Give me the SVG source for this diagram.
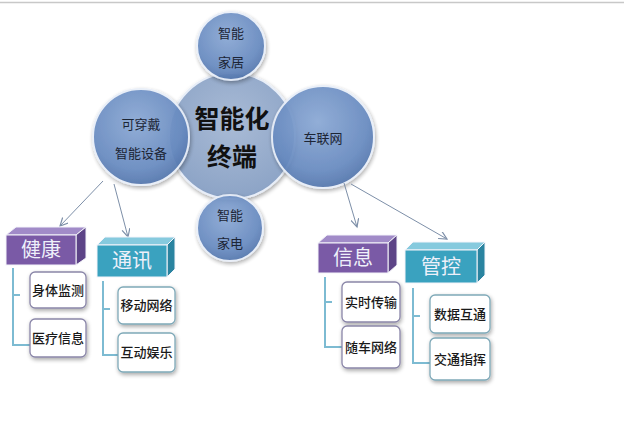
<svg xmlns="http://www.w3.org/2000/svg" width="624" height="438" viewBox="0 0 624 438">
<defs>
<radialGradient id="gSmall" cx="0.45" cy="0.35" r="0.7">
<stop offset="0" stop-color="#8aa8d4"/>
<stop offset="0.7" stop-color="#6689bf"/>
<stop offset="1" stop-color="#4d6fa6"/>
</radialGradient>
<radialGradient id="gCenter" cx="0.5" cy="0.4" r="0.7">
<stop offset="0" stop-color="#a9bbd6"/>
<stop offset="0.8" stop-color="#8ea5c7"/>
<stop offset="1" stop-color="#7a93ba"/>
</radialGradient>
<filter id="sh" x="-20%" y="-20%" width="140%" height="140%">
<feGaussianBlur in="SourceAlpha" stdDeviation="2"/>
<feOffset dx="1" dy="2"/>
<feComponentTransfer><feFuncA type="linear" slope="0.35"/></feComponentTransfer>
<feMerge><feMergeNode/><feMergeNode in="SourceGraphic"/></feMerge>
</filter>
<marker id="arr" markerWidth="10" markerHeight="10" refX="8" refY="4" orient="auto" markerUnits="userSpaceOnUse">
<path d="M0,0 L8,4 L0,8" fill="none" stroke="#7d8fa8" stroke-width="1.2"/>
</marker>
</defs>
<style>
.circ{stroke:#e8eef8;stroke-width:2;filter:url(#sh)}
.small{fill:url(#gSmall);opacity:0.93}
.ct{font-family:"Noto Sans CJK SC",sans-serif;font-size:13px;fill:#1c2535;text-anchor:middle}
.big{font-family:"Noto Sans CJK SC",sans-serif;font-size:25px;font-weight:bold;fill:#111;text-anchor:middle}
.ht{font-family:"Noto Sans CJK SC",sans-serif;font-size:20px;fill:#eef0fa;text-anchor:middle}
.bt{font-family:"Noto Sans CJK SC",sans-serif;font-size:13px;font-weight:500;fill:#1a1a1a;text-anchor:middle}
.conn{stroke:#7d8fa8;stroke-width:1;fill:none}
.br{stroke:#7dbbd2;stroke-width:2;fill:none}
.child{fill:#fff;stroke-width:1.3;filter:url(#sh)}
.cp{stroke:#8a86a8}
.ctl{stroke:#7fa9b8}
.pf{fill:#7a5aa6}.pt{fill:#a18bc8}.ps{fill:#5d4487}
.tf{fill:#3aa2bf}.tt{fill:#86cade}.ts{fill:#2a84a0}
.edge{stroke:#f4f4fa;stroke-width:1}
</style>
<line x1="0" y1="2.5" x2="624" y2="2.5" stroke="#c8c8c8" stroke-width="1.5"/>

<g id="center">
<circle class="circ" cx="232" cy="136" r="63" fill="url(#gCenter)"/>
<text class="big" x="232" y="128">智能化</text>
<text class="big" x="232" y="166">终端</text>
</g>
<g id="home">
<circle class="circ small" cx="231" cy="46" r="34"/>
<text class="ct" x="231" y="38">智能</text>
<text class="ct" x="231" y="67">家居</text>
</g>
<g id="wearable">
<circle class="circ small" cx="141" cy="137" r="48"/>
<text class="ct" x="141" y="129">可穿戴</text>
<text class="ct" x="141" y="158">智能设备</text>
</g>
<g id="carnet">
<circle class="circ small" cx="323" cy="137" r="51"/>
<text class="ct" x="323" y="143">车联网</text>
</g>
<g id="appliance">
<circle class="circ small" cx="230" cy="228" r="33"/>
<text class="ct" x="230" y="220">智能</text>
<text class="ct" x="230" y="248">家电</text>
</g>

<g id="connectors">
<line class="conn" x1="103" y1="181" x2="60" y2="226" marker-end="url(#arr)"/>
<line class="conn" x1="114" y1="184" x2="128" y2="237" marker-end="url(#arr)"/>
<line class="conn" x1="344" y1="183" x2="357" y2="227" marker-end="url(#arr)"/>
<line class="conn" x1="351" y1="184" x2="447" y2="239" marker-end="url(#arr)"/>
<path class="br" d="M13,268 V345 H30 M13,295 H20"/>
<path class="br" d="M103,281 V355 H118 M103,309 H110"/>
<path class="br" d="M325,277 V347 H342 M325,302 H332"/>
<path class="br" d="M413,288 V363 H430 M413,316 H420"/>
</g>

<g id="health">
<g transform="translate(6,235)">
<polygon class="pt edge" points="0,0 70,0 80,-8 10,-8"/>
<polygon class="ps edge" points="70,0 80,-8 80,23 70,30"/>
<rect class="pf edge" x="0" y="0" width="70" height="30"/>
<text class="ht" x="35" y="22">健康</text>
</g>
</g>
<g id="comm">
<g transform="translate(97,245)">
<polygon class="tt edge" points="0,0 70,0 78,-8 8,-8"/>
<polygon class="ts edge" points="70,0 78,-8 78,24 70,32"/>
<rect class="tf edge" x="0" y="0" width="70" height="32"/>
<text class="ht" x="35" y="23">通讯</text>
</g>
</g>
<g id="info">
<g transform="translate(318,243)">
<polygon class="pt edge" points="0,0 70,0 79,-8 9,-8"/>
<polygon class="ps edge" points="70,0 79,-8 79,22 70,30"/>
<rect class="pf edge" x="0" y="0" width="70" height="30"/>
<text class="ht" x="35" y="22">信息</text>
</g>
</g>
<g id="control">
<g transform="translate(405,250)">
<polygon class="tt edge" points="0,0 72,0 80,-8 8,-8"/>
<polygon class="ts edge" points="72,0 80,-8 80,25 72,33"/>
<rect class="tf edge" x="0" y="0" width="72" height="33"/>
<text class="ht" x="36" y="24">管控</text>
</g>
</g>

<g id="body"><rect class="child cp" x="30" y="272" width="56" height="36" rx="5"/><text class="bt" x="58" y="295">身体监测</text></g>
<g id="medical"><rect class="child cp" x="30" y="319" width="56" height="38" rx="5"/><text class="bt" x="58" y="343">医疗信息</text></g>
<g id="mobile"><rect class="child ctl" x="118" y="287" width="57" height="37" rx="5"/><text class="bt" x="146.5" y="310">移动网络</text></g>
<g id="interact"><rect class="child ctl" x="118" y="333" width="57" height="39" rx="5"/><text class="bt" x="146.5" y="357">互动娱乐</text></g>
<g id="realtime"><rect class="child cp" x="342" y="282" width="58" height="40" rx="5"/><text class="bt" x="371" y="307">实时传输</text></g>
<g id="carnetwork"><rect class="child cp" x="342" y="326" width="58" height="42" rx="5"/><text class="bt" x="371" y="352">随车网络</text></g>
<g id="data"><rect class="child ctl" x="430" y="295" width="60" height="38" rx="5"/><text class="bt" x="460" y="319">数据互通</text></g>
<g id="traffic"><rect class="child ctl" x="430" y="338" width="60" height="42" rx="5"/><text class="bt" x="460" y="364">交通指挥</text></g>
</svg>
